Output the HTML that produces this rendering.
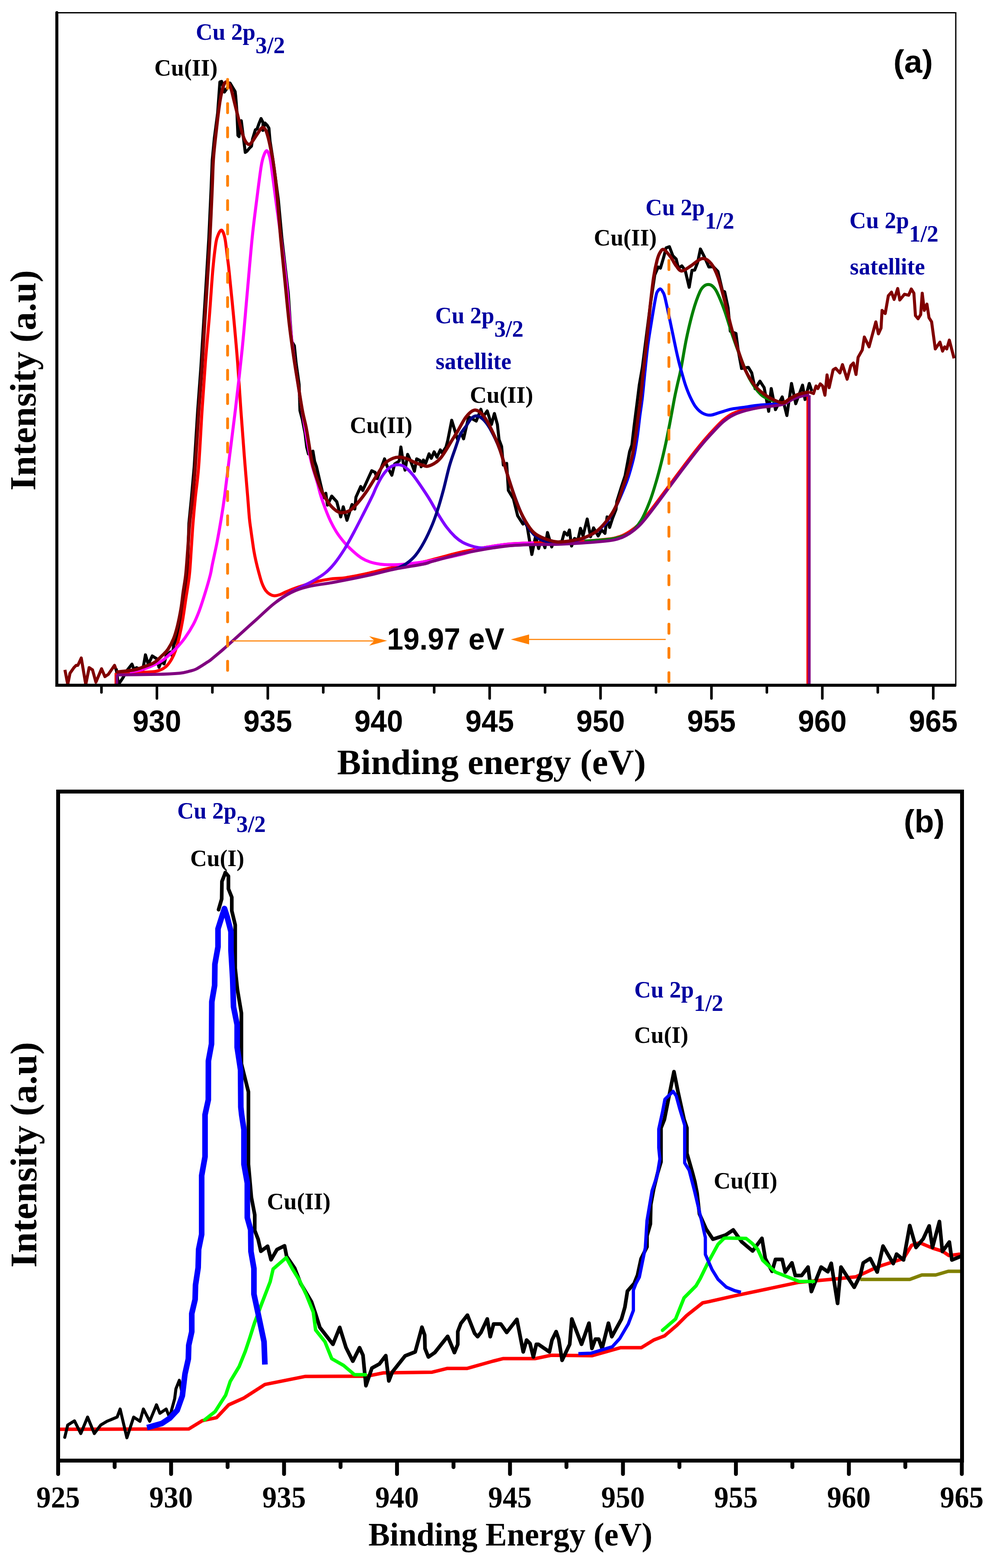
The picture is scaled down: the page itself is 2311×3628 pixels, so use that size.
<!DOCTYPE html><html><head><meta charset="utf-8"><title>Cu 2p XPS</title><style>html,body{margin:0;padding:0;background:#fff;}svg{display:block;}.tnr{font-family:"Liberation Serif","Times New Roman",serif;font-weight:bold;}.ari{font-family:"Liberation Sans",Arial,sans-serif;font-weight:bold;}</style></head><body>
<svg width="2311" height="3628" viewBox="0 0 2311 3628">
<rect width="2311" height="3628" fill="#fff"/>
<path d="M150.2,1549.9 L156.7,1583.8 L161.9,1557.7 L171,1544.7 L176.2,1539.4 L180.2,1539.4 L188,1522.5 L198.4,1583.8 L206.2,1544.7 L214,1549.9 L221.9,1578.5 L234.9,1547.3 L242.7,1565.5 L250.6,1560.3 L264.9,1539.4 L270.1,1553.8" fill="none" stroke="#800000" stroke-width="7" stroke-linejoin="round" />
<path d="M268.8,1547 L274,1583.8 L284.5,1568 L294.9,1549.9 L305.3,1536.8 L310.5,1550 L315.7,1544.7 L330,1551.6 L336.5,1515.1 L343,1537.3 L352.2,1517.7 L362.6,1524.3 L367.8,1543.8 L373,1530.8 L379.5,1536 L384.8,1516.4 L393.9,1508.6 L397.8,1516.4 L401.1,1499.5 L401.7,1493 L412.1,1466.9 L420,1434.3 L429.1,1369.1 L432.5,1330 L434.5,1290 L435.8,1250 L437,1210.8 L443,1150 L449.2,1080.4 L457.3,950 L464.8,848.3 L471,748.7 L477.2,649 L483.1,550 L488.3,436.8 L491,370 L495.8,320 L503.5,261.3 L508.7,189.6 L512.6,188.3 L516,200 L519.1,213 L525.6,203.9 L532.2,192.2 L536.1,198.7 L543.9,211.7 L545.2,222.2 L547.8,254.7 L550.4,313.4 L553,316 L555.6,282.1 L558.2,279.5 L562.1,310.8 L567.4,352.5 L571.3,349.9 L576.5,343.4 L581.7,338.2 L584.3,321.2 L590.8,300.4 L594.7,298.4 L598.6,287.3 L603.9,274.3 L608.4,283.4 L608.4,301.7 L613,284.7 L618.2,290 L622.1,296.5 L624.7,326.5 L630,360 L637,410 L644,463 L652,550 L660,620 L667,680 L671,740 L675,790 L681,800 L685,840 L692,890 L693.9,950 L699.1,969.6 L705.6,1002.2 L709.5,1034.7 L713.5,1050.4 L723.9,1043.9 L727.8,1067.3 L732.2,1080 L741.3,1119.1 L749.1,1151.7 L753.7,1141.3 L757.6,1168.7 L767.4,1147.8 L779.1,1160.8 L788.2,1196 L794.1,1172.6 L802.6,1203.9 L814.3,1167.4 L820.8,1177.8 L823.4,1150.4 L834.5,1125.6 L839.1,1134.8 L859.9,1089.1 L867.7,1093 L872.6,1107.4 L889.6,1061.7 L896,1080 L906.5,1099.5 L913,1073.5 L923.5,1066.9 L927.4,1034.3 L932.6,1069.5 L937.1,1087.8 L943,1051.3 L949.5,1065.6 L958.7,1090.4 L963.9,1061.7 L971.7,1065.6 L974.3,1080 L979.5,1064.3 L984.7,1072.2 L992.6,1050 L997.8,1060.4 L1004.3,1045.4 L1010.8,1057.8 L1018.6,1040.9 L1023,1048 L1031.7,1034.3 L1035.6,1020 L1045,972.4 L1058.7,1017.3 L1066.5,1001.7 L1072.4,1015.4 L1084.1,964.5 L1101.7,974.3 L1112.4,946.9 L1117.3,964.5 L1127.1,950.8 L1136.9,982.1 L1143.7,956.7 L1150.6,982.1 L1154.5,1017.3 L1160.4,1033 L1164.3,1076 L1172.1,1072.1 L1176,1134.7 L1187.7,1154.2 L1197.5,1193.4 L1209.8,1212.6 L1213.7,1206.7 L1219.6,1218.4 L1230.3,1283 L1239.1,1240 L1246,1269.3 L1252.8,1243.9 L1260.6,1267.3 L1266.5,1232.1 L1276.3,1265.4 L1280.2,1253.7 L1290,1255 L1300,1252 L1305.6,1231.2 L1312.5,1238 L1317.3,1226.3 L1322.2,1263.4 L1329.1,1245.8 L1336.9,1249.7 L1342.8,1222.4 L1348.6,1240 L1358.4,1200.8 L1366.2,1241.9 L1373.1,1221.4 L1383.8,1240 L1391.6,1226.3 L1399.5,1234.1 L1404.4,1196 L1410.2,1220.4 L1417.1,1198.9 L1424.9,1179.3 L1427,1160 L1437,1128 L1446,1100.8 L1456.5,1045 L1461.7,1030 L1467,985 L1474,930 L1479,890 L1486,849.9 L1504.3,706.5 L1514.7,636 L1522.6,617.8 L1527.8,620.4 L1535.6,594.3 L1540.8,573.5 L1548.6,570.9 L1556.5,591.7 L1564.3,599.5 L1569.5,620.4 L1577.3,615.2 L1585.1,625.6 L1594.3,664.7 L1600.8,625.6 L1607,625 L1613.8,607.4 L1620.3,576.1 L1629.5,594.3 L1639.9,617.8 L1650,617 L1660.8,628.2 L1671.2,672.6 L1676.4,675.2 L1684.2,711.7 L1689.4,766.4 L1702.5,771.6 L1707.7,810.8 L1715.5,852.5 L1731.2,849.9 L1739,862.9 L1746.8,899.4 L1758,882 L1767.7,896.8 L1778.2,951.7 L1784.1,898.9 L1793.9,947.8 L1809.5,918.4 L1820.3,961.5 L1831,887.2 L1840.8,934.1 L1856.5,891.1 L1862.3,924.3 L1872.1,887.2 L1878,904.8" fill="none" stroke="#000" stroke-width="7" stroke-linejoin="round" />
<path d="M268.5,1586 L268.5,1557" fill="none" stroke="#ff0000" stroke-width="7" stroke-linejoin="round" />
<path d="M268.8,1557.7 C275.8,1557.5 300.3,1556.8 310.5,1556.4 C320.7,1556.1 321.3,1556.2 330,1555.6 C338.7,1555 353.9,1554.9 362.6,1552.9 C371.3,1550.9 376.8,1547.9 382.2,1543.8 C387.6,1539.7 391.3,1534.5 395.2,1528.2 C399.1,1521.9 402.4,1515.1 405.6,1506 C408.9,1496.9 411.9,1485.4 414.7,1473.4 C417.5,1461.5 420,1449.5 422.6,1434.3 C425.2,1419.1 427.8,1399.6 430.4,1382.2 C433,1364.8 436.2,1348.7 438.2,1330 C440.2,1311.3 441.1,1289.9 442.5,1270 C443.9,1250.1 444.9,1230.8 446.5,1210.8 C448.1,1190.8 449.8,1171.7 452,1150 C454.2,1128.3 456.9,1113.7 459.5,1080.4 C462.1,1047.1 464.8,990.6 467.4,950 C470,909.4 472.4,873 475.2,836.8 C478,800.5 481.5,767.3 484.3,732.5 C487.1,697.7 489.6,655.9 492,628 C494.4,600.1 497,578.8 499,565 C501,551.2 502,550.3 504,545 C506,539.7 508.9,534.3 510.9,533 C512.9,531.7 514.3,533.3 516,537 C517.7,540.7 519.3,545.3 521,555 C522.7,564.7 524.5,582.8 526,595 C527.5,607.2 527.6,605.1 530,628 C532.4,650.9 537.1,697.7 540.4,732.5 C543.6,767.3 546.7,800.5 549.5,836.8 C552.3,873 554.7,913.8 557.3,950 C559.9,986.2 562.5,1021 565.1,1054.3 C567.7,1087.6 571,1125.5 573,1149.8 C575,1174.1 575.8,1187.5 577,1200 C578.2,1212.5 579.1,1216.7 580.2,1225 C581.3,1233.3 582.5,1241.8 583.7,1250 C584.9,1258.2 585.9,1266.2 587.3,1274.4 C588.7,1282.6 590.4,1291 592.3,1299.3 C594.2,1307.6 596.3,1316 598.6,1324.3 C600.9,1332.6 603.3,1342.2 606,1349.2 C608.7,1356.2 611.7,1362.2 614.8,1366.6 C617.9,1370.9 621.4,1373.3 624.7,1375.3 C628,1377.3 631,1378.3 634.7,1378.4 C638.4,1378.5 643,1377.3 647.1,1376 C651.2,1374.7 654.1,1372.7 659.6,1370.3 C665.1,1367.9 673.4,1364.3 680.4,1361.7 C687.4,1359.1 693.5,1357.2 701.9,1354.6 C710.3,1352 719.9,1348.5 730.6,1346 C741.4,1343.5 754.8,1341.1 766.4,1339.5 C778,1337.9 786.2,1338.7 800,1336.6 C813.8,1334.5 831.3,1330.9 849.4,1327 C867.5,1323.1 886.8,1317.5 908.6,1313 C930.4,1308.5 955,1305.6 980,1300 C1005,1294.4 1035.8,1284.7 1058.7,1279.3 C1081.6,1273.9 1097.8,1271 1117.3,1267.6 C1136.8,1264.2 1156.4,1260.9 1176,1259 C1195.6,1257.1 1214,1256.7 1234.7,1256 C1255.4,1255.3 1272.5,1256.3 1300,1255 C1327.5,1253.7 1377.5,1250.3 1400,1248 C1422.5,1245.7 1425.3,1244.2 1435,1241 C1444.7,1237.8 1451,1233.5 1458,1229 C1465,1224.5 1471,1219.7 1477,1214 C1483,1208.3 1487.2,1203.3 1494,1195 C1500.8,1186.7 1509.7,1175 1518,1164 C1526.3,1153 1534.3,1142 1544,1129 C1553.7,1116 1565.2,1100.3 1576,1086 C1586.8,1071.7 1599.7,1054.8 1609,1043 C1618.3,1031.2 1624.8,1023.3 1632,1015 C1639.2,1006.7 1645.2,1000.2 1652,993 C1658.8,985.8 1665.8,978 1673,972 C1680.2,966 1686.3,961.3 1695,957 C1703.7,952.7 1714.2,949.1 1725,946 C1735.8,942.9 1746,940.8 1760,938.5 C1774,936.2 1796.4,935.4 1808.8,932.2 C1821.2,929 1826.7,922.8 1834.2,919.5 C1841.7,916.2 1848.2,914.1 1853.8,912.6 C1859.3,911.1 1865.2,910.9 1867.5,910.5" fill="none" stroke="#ff0000" stroke-width="7" stroke-linejoin="round" />
<path d="M1867.5,910.5 L1867.5,1586" fill="none" stroke="#ff0000" stroke-width="4" stroke-linejoin="round" />
<path d="M300,1555 C305,1554 318.5,1552.8 330,1549 C341.5,1545.2 359.3,1537.3 369.1,1532.1 C378.9,1526.9 382.2,1523.1 388.7,1517.7 C395.2,1512.3 401.7,1506.5 408.2,1499.5 C414.7,1492.5 421.3,1485.1 427.8,1476 C434.3,1466.9 441.9,1454.9 447.3,1444.7 C452.7,1434.5 456,1426.2 460.4,1414.7 C464.8,1403.2 469,1389.7 473.4,1375.6 C477.8,1361.5 483.6,1341.5 486.5,1330 C489.4,1318.5 488.5,1319.1 491.1,1306.5 C493.7,1293.9 498.7,1271.7 502.1,1254.3 C505.5,1236.9 508.5,1219.6 511.4,1202.2 C514.3,1184.8 516,1174.7 519.3,1150 C522.6,1125.3 527,1087.6 531.2,1054.3 C535.4,1021 539.5,990.6 544.3,950 C549.1,909.4 555.3,855.7 559.9,810.8 C564.5,765.9 567.8,723.9 571.7,680.4 C575.6,636.9 579.7,586.2 583.4,550 C587.1,513.8 590.3,490.6 593.8,463 C597.3,435.4 601.3,402.2 604.2,384.7 C607.1,367.2 608.8,364 611,358 C613.2,352 615.3,348.3 617.3,348.6 C619.3,348.9 621.3,354 623,360 C624.7,366 625.2,367.5 627.7,384.7 C630.2,401.9 634.3,435.4 638,463 C641.7,490.6 645.7,517.2 649.9,550 C654.1,582.8 659.3,625 663,660 C666.7,695 668.8,730 672,760 C675.2,790 677.5,808.3 682,840 C686.5,871.7 694.1,918.6 699.1,950 C704.1,981.4 709.2,1010.7 712.2,1028.2 C715.2,1045.7 715.2,1046.4 717,1055 C718.8,1063.6 720,1069.3 723,1080 C726,1090.7 731.5,1107.4 734.8,1119.1 C738.1,1130.8 738.7,1137 743,1150 C747.3,1163 755,1184 760.8,1197.3 C766.6,1210.6 771.7,1220.2 777.8,1230 C783.9,1239.8 790.8,1248.4 797.3,1256 C803.8,1263.6 810.4,1269.7 816.9,1275.6 C823.4,1281.5 830,1287.1 836.5,1291.2 C843,1295.3 848.8,1297.9 856,1300.3 C863.2,1302.7 872.2,1304.4 880,1305.5 C887.8,1306.6 893.4,1306.8 902.6,1306.8 C911.8,1306.8 921.1,1306.8 935.2,1305.5 C949.3,1304.2 964.8,1302.9 987.3,1299 C1009.8,1295.1 1048.4,1287.2 1070,1282 C1091.6,1276.8 1099.3,1271.8 1117,1268 C1134.7,1264.2 1156.3,1261 1176,1259 C1195.7,1257 1225.2,1256.5 1235,1256" fill="none" stroke="#ff00ff" stroke-width="7" stroke-linejoin="round" />
<path d="M640,1392 C644.2,1389.2 655.9,1380.5 665,1375 C674.1,1369.5 685,1364.1 694.7,1359 C704.4,1353.9 713.8,1350 723.4,1344.5 C733,1339 743.7,1332.7 752.1,1325.9 C760.5,1319.2 766.1,1313.3 773.6,1304 C781.1,1294.7 789.6,1282.3 797.3,1270 C804.9,1257.7 811.9,1244.3 819.5,1230 C827.1,1215.7 835.8,1198.4 843,1184.3 C850.2,1170.2 858,1154.6 862.5,1145.2 C867,1135.8 866.6,1135 870,1128 C873.4,1121 878.6,1110.3 883,1103.4 C887.4,1096.5 891.8,1090.8 896.1,1086.5 C900.5,1082.2 904.5,1079.2 909.1,1077.4 C913.7,1075.6 918.7,1074.8 923.5,1075.4 C928.3,1076.1 932.6,1077.5 937.8,1081.3 C943,1085.1 948.6,1090.8 954.7,1098.2 C960.8,1105.6 967.8,1116 974.3,1125.6 C980.8,1135.2 987.4,1144.9 993.9,1155.6 C1000.4,1166.2 1006.9,1178.8 1013.4,1189.5 C1019.9,1200.2 1026.5,1210.8 1033,1219.5 C1039.5,1228.2 1046.3,1235.7 1052.5,1241.6 C1058.7,1247.5 1063.8,1251.1 1070,1254.7 C1076.2,1258.3 1083.7,1260.9 1090,1263 C1096.3,1265.1 1101.4,1266.4 1107.6,1267.2 C1113.8,1268 1118.4,1268.2 1127.1,1267.7 C1135.8,1267.2 1154.5,1264.6 1160,1264" fill="none" stroke="#8000ff" stroke-width="7" stroke-linejoin="round" />
<path d="M905,1318 C907.9,1317.2 916.1,1315.9 922.2,1313.4 C928.3,1310.9 935.2,1307.7 941.7,1302.9 C948.2,1298.1 954.8,1292.7 961.3,1284.7 C967.8,1276.7 974.3,1266.7 980.8,1254.7 C987.3,1242.8 995,1226 1000.4,1213 C1005.8,1200 1009,1190.2 1013.4,1176.5 C1017.8,1162.8 1022.1,1147.1 1026.5,1130.8 C1030.8,1114.5 1035.2,1093.9 1039.5,1078.7 C1043.8,1063.5 1048.2,1051.9 1052.5,1039.6 C1056.8,1027.3 1060.7,1013.9 1065,1005 C1069.3,996.1 1073.7,992.4 1078.2,986 C1082.7,979.6 1087.3,970.4 1091.9,966.5 C1096.5,962.6 1100.7,961.3 1105.6,962.6 C1110.5,963.9 1116.1,968.4 1121.3,974.3 C1126.5,980.2 1131,986.7 1136.9,997.8 C1142.8,1008.9 1150,1022.9 1156.5,1040.8 C1163,1058.7 1169.5,1084.8 1176,1105 C1182.5,1125.2 1189.1,1144.8 1195.6,1162 C1202.1,1179.2 1208.5,1195.6 1215,1208 C1221.5,1220.4 1228.2,1229.4 1234.7,1236.4 C1241.2,1243.4 1247.5,1247.1 1254,1250 C1260.5,1252.9 1266.1,1253 1273.8,1254 C1281.5,1255 1295.6,1255.7 1300,1256" fill="none" stroke="#000080" stroke-width="7" stroke-linejoin="round" />
<path d="M1352.2,1252 C1363,1251.1 1399.9,1249.8 1417.3,1246.8 C1434.7,1243.8 1445.6,1240.8 1456.5,1233.8 C1467.4,1226.8 1474.7,1217.4 1482.5,1205.1 C1490.3,1192.8 1497.3,1175.2 1503.2,1160 C1509.1,1144.8 1513.6,1129.1 1518.1,1113.9 C1522.6,1098.8 1526.4,1084 1530.1,1069.1 C1533.8,1054.1 1537.3,1039.2 1540.5,1024.2 C1543.7,1009.2 1546.2,996.3 1549.5,979.4 C1552.8,962.5 1557.1,937.5 1560,922.6 C1562.9,907.7 1564.5,901.3 1567,890 C1569.5,878.7 1571.5,872.5 1575,855 C1578.5,837.5 1583,807.3 1587.7,784.7 C1592.4,762.1 1598.2,737.8 1603.4,719.5 C1608.6,701.2 1614.6,685 1619,675.2 C1623.4,665.5 1626.7,663.8 1630,661 C1633.3,658.2 1635.8,658.2 1638.6,658.2 C1641.4,658.2 1643.8,658.2 1647,661 C1650.2,663.8 1653.2,665.5 1658.1,675.2 C1663,685 1670.3,702.5 1676.4,719.5 C1682.5,736.5 1688.6,759.1 1694.7,776.9 C1700.8,794.7 1706.4,809.9 1712.9,826.4 C1719.4,842.9 1726,861.6 1733.8,876 C1741.6,890.4 1751.3,904.2 1759.8,912.5 C1768.3,920.8 1776.4,922.6 1785,926 C1793.6,929.4 1807.1,931.8 1811.5,933" fill="none" stroke="#008000" stroke-width="7" stroke-linejoin="round" />
<path d="M1300,1255 C1306.5,1254 1326,1253 1339,1249 C1352,1245 1367.2,1238 1378,1231 C1388.8,1224 1396.2,1216.8 1404,1207 C1411.8,1197.2 1418.3,1185 1425,1172 C1431.7,1159 1439,1141.2 1444,1129 C1449,1116.8 1451.2,1111.5 1455,1099 C1458.8,1086.5 1463.8,1069 1467,1054 C1470.2,1039 1472.3,1024 1474.5,1009 C1476.7,994 1478.1,978.8 1480,964 C1481.9,949.2 1484,937.3 1486,920 C1488,902.7 1489.9,880 1492,860 C1494.1,840 1496,819.1 1498.5,800 C1501,780.9 1503.8,764.7 1506.9,745.6 C1510,726.5 1514.8,697.7 1517.3,685.6 C1519.8,673.5 1520.2,675.8 1522,673 C1523.8,670.2 1526,668.3 1527.8,668.6 C1529.6,668.9 1531.3,671.7 1533,675 C1534.7,678.3 1535.2,676 1538.2,688.2 C1541.2,700.4 1546.9,727.8 1551.2,748.2 C1555.5,768.6 1561,795.5 1564.3,810.8 C1567.6,826.1 1568.8,830.8 1571.1,840 C1573.4,849.2 1575.8,857.4 1578.3,866.1 C1580.8,874.8 1583.1,883.5 1586.1,892.2 C1589.1,900.9 1592.6,910 1596.5,918.2 C1600.4,926.5 1604.7,935.4 1609.5,941.7 C1614.3,948 1619.5,952.9 1625.2,956 C1630.9,959.1 1636.9,960.8 1643.4,960.6 C1649.9,960.4 1656.5,957 1664.3,954.7 C1672.1,952.4 1681.7,948.9 1690.4,946.9 C1699.1,944.9 1704.9,944.6 1716.5,943 C1728.1,941.4 1744.2,938.6 1760,937.1 C1775.8,935.6 1802.9,934.5 1811.5,934" fill="none" stroke="#0000ff" stroke-width="7" stroke-linejoin="round" />
<path d="M270.5,1586 L270.5,1561.6" fill="none" stroke="#800080" stroke-width="6" stroke-linejoin="round" />
<path d="M270.1,1561.6 C285.5,1561.4 338.6,1560.9 362.7,1560.3 C386.8,1559.7 402.1,1558.9 414.8,1557.7 C427.5,1556.5 432.2,1554.5 438.7,1552.9 C445.2,1551.3 447.5,1551.3 454,1548 C460.5,1544.7 472.2,1536.9 477.8,1533.3 C483.4,1529.7 481.3,1531.6 487.8,1526.4 C494.3,1521.2 505.5,1511.9 516.9,1502 C528.3,1492.1 543,1478.5 556,1466.8 C569,1455.1 582.1,1443.3 595.1,1431.6 C608.1,1419.9 621.2,1406.5 634.2,1396.4 C647.2,1386.3 660.4,1377.5 673.4,1371 C686.4,1364.5 696.2,1361.2 712.5,1357.3 C728.8,1353.4 748.3,1351.7 771.1,1347.5 C793.9,1343.3 826.5,1336.9 849.4,1331.9 C872.3,1326.9 886.8,1322.2 908.6,1317.7 C930.4,1313.2 964.8,1308.1 980,1305 C995.2,1301.9 986.9,1302.6 1000,1299 C1013.1,1295.4 1039.2,1287.9 1058.7,1283.3 C1078.2,1278.7 1097.8,1275 1117.3,1271.6 C1136.8,1268.2 1156.4,1264.9 1176,1263 C1195.6,1261.1 1214,1260.7 1234.7,1260 C1255.4,1259.3 1272.5,1260.3 1300,1259 C1327.5,1257.7 1377.5,1254.3 1400,1252 C1422.5,1249.7 1425.3,1248.2 1435,1245 C1444.7,1241.8 1451,1237.5 1458,1233 C1465,1228.5 1471,1223.7 1477,1218 C1483,1212.3 1487.2,1207.3 1494,1199 C1500.8,1190.7 1509.7,1179 1518,1168 C1526.3,1157 1534.3,1146 1544,1133 C1553.7,1120 1565.2,1104.3 1576,1090 C1586.8,1075.7 1599.7,1058.8 1609,1047 C1618.3,1035.2 1624.8,1027.3 1632,1019 C1639.2,1010.7 1645.2,1004.2 1652,997 C1658.8,989.8 1665.8,982 1673,976 C1680.2,970 1686.3,965.3 1695,961 C1703.7,956.7 1714.2,953.1 1725,950 C1735.8,946.9 1746,944.8 1760,942.5 C1774,940.2 1796.4,939.4 1808.8,936.2 C1821.2,933 1826.7,926.8 1834.2,923.5 C1841.7,920.2 1847.5,918.2 1853.8,916.6 C1860.1,915 1869,914.2 1872.1,913.7" fill="none" stroke="#800080" stroke-width="7" stroke-linejoin="round" />
<path d="M1872,914.5 L1872,1586" fill="none" stroke="#800080" stroke-width="6.5" stroke-linejoin="round" />
<path d="M268.8,1555 C275.8,1554.2 300.3,1551.9 310.5,1550 C320.7,1548.1 322.4,1546.6 330,1543.8 C337.6,1541 348.5,1538 356.1,1533.4 C363.7,1528.8 370.2,1521.6 375.6,1516.4 C381,1511.2 384.4,1508.6 388.7,1502.1 C393,1495.6 398,1486.4 401.7,1477.3 C405.4,1468.2 408,1458.8 410.8,1447.3 C413.6,1435.8 416.5,1421.2 418.7,1408.2 C420.9,1395.2 422.1,1382.1 423.9,1369.1 C425.7,1356.1 427.9,1346.5 429.7,1330 C431.5,1313.5 433,1289.9 434.5,1270 C436,1250.1 436.9,1230.8 438.7,1210.8 C440.5,1190.8 443.3,1171.7 445.5,1150 C447.7,1128.3 449.3,1113.7 451.7,1080.4 C454.1,1047.1 457.2,988.7 459.8,950 C462.4,911.3 465,881.8 467.3,848.3 C469.6,814.8 471.4,781.9 473.5,748.7 C475.6,715.5 477.7,682.1 479.7,649 C481.7,615.9 483.8,585.4 485.6,550 C487.5,514.6 489.5,466.8 490.8,436.8 C492.1,406.8 492.2,389.5 493.5,370 C494.8,350.5 496.6,335.9 498.3,320 C500,304.1 501.8,288.4 503.5,274.3 C505.2,260.2 507,246.1 508.7,235.2 C510.4,224.3 512.2,216 513.9,209.1 C515.6,202.2 517.4,196.8 519.1,193.5 C520.8,190.2 522.6,189.6 524.3,189.6 C526,189.6 527.8,190.7 529.5,193.5 C531.2,196.3 532.8,200 534.8,206.5 C536.8,213 538.9,223 541.3,232.6 C543.7,242.2 546.3,252.6 549.1,263.9 C551.9,275.2 555.4,290.4 558.2,300.4 C561,310.4 563.1,318.1 566,323.8 C568.9,329.5 572.8,333.9 575.8,334.3 C578.8,334.8 581.1,330.4 584.3,326.5 C587.4,322.6 591,316 594.7,310.8 C598.4,305.6 603.2,296.9 606.5,295.2 C609.8,293.5 611.9,296.3 614.3,300.4 C616.7,304.5 618.6,311.8 620.8,320 C623,328.2 625.6,341.6 627.3,349.9 C629,358.2 629.6,359.9 631.2,370 C632.8,380.1 635,395.3 636.8,410.8 C638.6,426.3 639.9,439.9 642,463 C644.1,486.1 646.4,518.3 649.2,549.3 C652.1,580.3 655.8,615.8 659.1,649 C662.4,682.2 665.8,719.6 669.1,748.7 C672.4,777.8 675.8,800.6 679.1,823.4 C682.4,846.2 685.6,864.6 689,885.7 C692.4,906.8 696.3,932.8 699.5,950 C702.7,967.2 705.7,976.1 708.2,989.1 C710.8,1002.1 713,1017.2 714.8,1028.2 C716.6,1039.2 717.4,1046.4 719,1055 C720.6,1063.6 721.7,1070.4 724.3,1080 C726.9,1089.6 731.3,1102.8 734.8,1112.6 C738.3,1122.4 740.9,1130 745.2,1138.7 C749.5,1147.4 755.4,1157.5 760.8,1164.7 C766.2,1171.9 772.8,1178.1 777.8,1181.7 C782.8,1185.3 785.4,1186.5 790.8,1186.3 C796.2,1186.1 803.9,1184.7 810.4,1180.4 C816.9,1176.2 823.4,1168.4 829.9,1160.8 C836.4,1153.2 843,1144.3 849.5,1134.8 C856,1125.3 862.3,1114.3 869,1104 C875.7,1093.7 882.9,1080.3 889.6,1073 C896.3,1065.7 903.2,1062.9 909.1,1060.4 C915,1057.9 919.4,1057.6 924.8,1057.8 C930.2,1058 935.6,1059.5 941.7,1061.7 C947.8,1063.9 954.8,1068.2 961.3,1070.8 C967.8,1073.4 976,1076.1 980.8,1077.4 C985.6,1078.7 985.6,1079.8 990,1078.7 C994.4,1077.6 1001.9,1074.1 1006.9,1070.8 C1011.9,1067.5 1015.5,1064.3 1019.9,1059.1 C1024.2,1053.9 1028.9,1046.1 1033,1039.6 C1037.1,1033.1 1040.4,1027 1044.7,1020 C1049,1013 1053.1,1007 1058.7,997.8 C1064.3,988.5 1071.7,972.6 1078.2,964.5 C1084.7,956.4 1091.3,949.5 1097.8,948.9 C1104.3,948.2 1110.8,953.1 1117.3,960.6 C1123.8,968.1 1130.4,980.5 1136.9,993.9 C1143.4,1007.3 1150,1022.2 1156.5,1040.8 C1163,1059.4 1169.5,1084.8 1176,1105.3 C1182.5,1125.8 1189.1,1147.4 1195.6,1164 C1202.1,1180.6 1208.6,1193.7 1215.1,1205 C1221.6,1216.3 1227.4,1225.2 1234.7,1232 C1242,1238.8 1249.8,1242.2 1258.7,1245.8 C1267.6,1249.4 1278.2,1252.7 1288,1253.7 C1297.8,1254.7 1307.5,1253 1317.3,1251.7 C1327.1,1250.4 1336.9,1249.1 1346.7,1245.8 C1356.5,1242.5 1367.8,1237.3 1376,1232.1 C1384.2,1226.9 1389.1,1221.7 1395.6,1214.5 C1402.1,1207.3 1409.4,1198.2 1415.1,1189.1 C1420.8,1180 1425.7,1170 1429.9,1160 C1434.1,1150 1436.9,1139.1 1440.4,1128.9 C1443.9,1118.7 1447.1,1111.5 1450.8,1099 C1454.5,1086.5 1459.5,1069 1462.8,1054.1 C1466,1039.1 1468.1,1024.2 1470.3,1009.3 C1472.5,994.3 1474.2,979.3 1476.2,964.4 C1478.2,949.5 1480.2,937 1482.2,919.6 C1484.2,902.2 1486.1,879.7 1488.2,859.8 C1490.3,839.9 1492.2,825.5 1494.9,800 C1497.6,774.5 1501.4,733 1504.3,706.5 C1507.2,680 1509.5,658.7 1512.1,641.3 C1514.7,623.9 1517.5,611.8 1520,602.2 C1522.5,592.7 1524.4,588.1 1527,584 C1529.6,579.9 1531.6,575.7 1535.6,577.4 C1539.6,579.1 1546.4,588 1551.2,594.3 C1556,600.6 1560,609.8 1564.3,615.2 C1568.6,620.6 1571.6,626.9 1577.3,626.9 C1583,626.9 1590.4,620 1598.2,615.2 C1606,610.4 1616.5,599.1 1624.3,598.2 C1632.1,597.3 1639,602.8 1645.1,610 C1651.2,617.2 1655.6,627 1660.8,641.3 C1666,655.6 1671.2,676.5 1676.4,696 C1681.6,715.5 1686.8,739.5 1692,758.6 C1697.2,777.7 1702.4,794.6 1707.7,810.8 C1713,827 1717.5,842.3 1724,856 C1730.5,869.7 1739.4,883.6 1746.8,893 C1754.2,902.4 1761.5,907.4 1768.4,912.6 C1775.3,917.8 1780.8,921 1788,924.3 C1795.2,927.5 1805,932.4 1811.5,932.1 C1818,931.8 1821.2,925.6 1827.1,922.4 C1833,919.1 1839.2,915.2 1846.7,912.6 C1854.2,910 1867.9,907.7 1872.1,906.7" fill="none" stroke="#800000" stroke-width="7.5" stroke-linejoin="round" />
<path d="M1872.1,906.7 L1881.9,910.6 L1887.7,893 L1892,899 L1897.5,888.1 L1903,893 L1908.3,914.5 L1913.2,867.6 L1918.1,897 L1927.2,855.7 L1933.2,852 L1942.9,862.9 L1948.9,843.6 L1959.7,877.4 L1968.2,846 L1974.2,840 L1980.2,866.5 L1985.1,826.7 L1994.7,809.8 L1999.5,779.7 L2010.4,802.6 L2026.1,744.7 L2032.1,772.5 L2038.1,759.2 L2040.5,718.2 L2047.8,725.4 L2055,684.4 L2062.3,676 L2068.3,692.9 L2076.7,667.5 L2081.5,694.1 L2092.4,680.8 L2102,683.2 L2108.1,668.7 L2114.1,678.4 L2117.7,730.2 L2123.8,737.5 L2129.8,727.8 L2133.4,678.4 L2138.2,718.2 L2144.3,703.7 L2149.1,735.1 L2155.1,744.7 L2163.6,807.4 L2174.4,791.7 L2180.4,812.3 L2185.3,802.6 L2190.1,807.4 L2196.1,786.9 L2207,829.1" fill="none" stroke="#800000" stroke-width="7" stroke-linejoin="round" />
<line x1="526.5" y1="183.65" x2="526.5" y2="1586" stroke="#ff8000" stroke-width="6.5" stroke-linecap="round" stroke-dasharray="20.9 35.2"/>
<line x1="1547.4" y1="602.75" x2="1547.4" y2="1582" stroke="#ff8000" stroke-width="6.5" stroke-linecap="round" stroke-dasharray="20.9 35.2"/>
<line x1="536.5" y1="1483" x2="885" y2="1483" stroke="#ff8000" stroke-width="2.5"/>
<path d="M895.6,1482.6 L854,1472 L866,1482.6 L854,1494 Z" fill="#ff8000"/>
<line x1="1195" y1="1479.5" x2="1540" y2="1479.5" stroke="#ff8000" stroke-width="2.5"/>
<path d="M1181.7,1479.5 L1224,1468 L1224,1491 Z" fill="#ff8000"/>
<path d="M131.5,1586 L131.5,29.5 L2211,29.5 L2211,1585.5 L131.5,1585.5" fill="none" stroke="#000" stroke-width="3"/>
<line x1="131.5" y1="29.3" x2="131.5" y2="1585.5" stroke="#000" stroke-width="7" stroke-linecap="round"/>
<line x1="128" y1="1585.5" x2="2212" y2="1585.5" stroke="#000" stroke-width="7"/>
<line x1="234.7" y1="1586" x2="234.7" y2="1602" stroke="#000" stroke-width="6" stroke-linecap="round"/>
<line x1="363.0" y1="1586" x2="363.0" y2="1616" stroke="#000" stroke-width="6" stroke-linecap="round"/>
<text transform="translate(363.0,1692.5) scale(0.964,1)" class="ari" font-size="70" text-anchor="middle">930</text>
<line x1="491.3" y1="1586" x2="491.3" y2="1602" stroke="#000" stroke-width="6" stroke-linecap="round"/>
<line x1="619.5" y1="1586" x2="619.5" y2="1616" stroke="#000" stroke-width="6" stroke-linecap="round"/>
<text transform="translate(619.5,1692.5) scale(0.964,1)" class="ari" font-size="70" text-anchor="middle">935</text>
<line x1="747.8" y1="1586" x2="747.8" y2="1602" stroke="#000" stroke-width="6" stroke-linecap="round"/>
<line x1="876.1" y1="1586" x2="876.1" y2="1616" stroke="#000" stroke-width="6" stroke-linecap="round"/>
<text transform="translate(876.1,1692.5) scale(0.964,1)" class="ari" font-size="70" text-anchor="middle">940</text>
<line x1="1004.4" y1="1586" x2="1004.4" y2="1602" stroke="#000" stroke-width="6" stroke-linecap="round"/>
<line x1="1132.7" y1="1586" x2="1132.7" y2="1616" stroke="#000" stroke-width="6" stroke-linecap="round"/>
<text transform="translate(1132.7,1692.5) scale(0.964,1)" class="ari" font-size="70" text-anchor="middle">945</text>
<line x1="1260.9" y1="1586" x2="1260.9" y2="1602" stroke="#000" stroke-width="6" stroke-linecap="round"/>
<line x1="1389.2" y1="1586" x2="1389.2" y2="1616" stroke="#000" stroke-width="6" stroke-linecap="round"/>
<text transform="translate(1389.2,1692.5) scale(0.964,1)" class="ari" font-size="70" text-anchor="middle">950</text>
<line x1="1517.5" y1="1586" x2="1517.5" y2="1602" stroke="#000" stroke-width="6" stroke-linecap="round"/>
<line x1="1645.8" y1="1586" x2="1645.8" y2="1616" stroke="#000" stroke-width="6" stroke-linecap="round"/>
<text transform="translate(1645.8,1692.5) scale(0.964,1)" class="ari" font-size="70" text-anchor="middle">955</text>
<line x1="1774.0" y1="1586" x2="1774.0" y2="1602" stroke="#000" stroke-width="6" stroke-linecap="round"/>
<line x1="1902.3" y1="1586" x2="1902.3" y2="1616" stroke="#000" stroke-width="6" stroke-linecap="round"/>
<text transform="translate(1902.3,1692.5) scale(0.964,1)" class="ari" font-size="70" text-anchor="middle">960</text>
<line x1="2030.6" y1="1586" x2="2030.6" y2="1602" stroke="#000" stroke-width="6" stroke-linecap="round"/>
<line x1="2158.9" y1="1586" x2="2158.9" y2="1616" stroke="#000" stroke-width="6" stroke-linecap="round"/>
<text transform="translate(2158.9,1692.5) scale(0.964,1)" class="ari" font-size="70" text-anchor="middle">965</text>
<text x="0" y="0" class="tnr" font-size="85" fill="#000" transform="translate(82.4,880) rotate(-90)" text-anchor="middle">Intensity (a.u)</text>
<text transform="translate(453.11,92) scale(0.9617,1)" class="tnr" font-size="55.5" fill="#0000a0">Cu 2p<tspan dy="31">3/2</tspan></text>
<text transform="translate(357.03,174.5) scale(0.9867,1)" class="tnr" font-size="54.5" fill="#000">Cu(II)</text>
<text transform="translate(2066.80,168.4) scale(1.0012,1)" class="ari" font-size="74.7" fill="#000">(a)</text>
<text transform="translate(1493.30,497.6) scale(0.9581,1)" class="tnr" font-size="55.5" fill="#0000a0">Cu 2p<tspan dy="31">1/2</tspan></text>
<text transform="translate(1373.86,568) scale(0.9797,1)" class="tnr" font-size="54.5" fill="#000">Cu(II)</text>
<text transform="translate(1965.12,528.3) scale(0.9608,1)" class="tnr" font-size="55.5" fill="#0000a0">Cu 2p<tspan dy="31">1/2</tspan></text>
<text transform="translate(1966.09,634.6) scale(0.9553,1)" class="tnr" font-size="55.5" fill="#0000a0">satellite</text>
<text transform="translate(1006.70,747.5) scale(0.9533,1)" class="tnr" font-size="55.5" fill="#0000a0">Cu 2p<tspan dy="31">3/2</tspan></text>
<text transform="translate(1007.64,854.3) scale(0.9637,1)" class="tnr" font-size="55.5" fill="#0000a0">satellite</text>
<text transform="translate(1087.04,932.4) scale(0.9860,1)" class="tnr" font-size="54.5" fill="#000">Cu(II)</text>
<text transform="translate(809.46,1001.8) scale(0.9743,1)" class="tnr" font-size="54.5" fill="#000">Cu(II)</text>
<text transform="translate(895.14,1503.4) scale(0.9691,1)" class="ari" font-size="70" fill="#000">19.97 eV</text>
<text transform="translate(779.80,1790.7) scale(0.9994,1)" class="tnr" font-size="83" fill="#000">Binding energy (eV)</text>
<path d="M134,3307 L436.6,3306.3 L468,3287.1 L501.1,3280.1 L529,3250.5 L563.9,3234.8 L612.8,3203.3 L706.7,3184.7 L847.8,3184.3 L887,3176.5 L999.6,3174.9 L1034,3166.3 L1080,3166.3 L1140,3149.5 L1163.4,3143.6 L1237.7,3143.6 L1274.9,3135.8 L1369.3,3136.8 L1435.8,3118.2 L1483.7,3118.2 L1512.1,3100.6 L1537.5,3090.8 L1564.9,3067.3 L1588.4,3043.9 L1625.5,3014.5 L1640,3011.6 L1700,2998.2 L1848.6,2966.9 L1934.7,2959.1 L1980,2954.2 L2000,2945.4 L2020.7,2935.6 L2037.6,2928.8 L2090.2,2911.9 L2108.8,2881.4 L2127.5,2875.4 L2158,2888.1 L2180,2894.9 L2195.3,2905.1 L2221,2901.7" fill="none" stroke="#ff0000" stroke-width="8" stroke-linejoin="round" />
<path d="M1990.2,2960.2 L2104.6,2960.2 L2132.5,2950 L2164.7,2950 L2193.6,2941.5 L2221,2941.5" fill="none" stroke="#808000" stroke-width="8" stroke-linejoin="round" />
<path d="M149.8,3325.7 L156.6,3297.3 L172.3,3287.6 L186.9,3316.9 L202.6,3278.8 L218.2,3316.9 L232.9,3297.3 L247.6,3288.5 L271,3278.8 L277.9,3260.2 L293.5,3326.7 L309.2,3278.8 L323.8,3288.5 L331.7,3260.2 L346.3,3288.5 L362,3250.4 L369.8,3270 L384.5,3260.2 L392.3,3279.7 L404,3236.7 L407,3213.2 L414.8,3193.7 L423.2,3231.5" fill="none" stroke="#000" stroke-width="7" stroke-linejoin="round" stroke-linecap="round"/>
<path d="M505.6,2104.7 L512.8,2080 L513.4,2039.5 L520,2022.6 L521.3,2018.7 L528.4,2027.2 L528.4,2056.5 L536.2,2076 L536.2,2107.3 L544.1,2139.9 L544.1,2240.3 L549.3,2290 L558.4,2343.9 L558.4,2461.2 L574.7,2526.4 L574.7,2693.6 L581.5,2770.3 L589.3,2810.9 L589.3,2846.9 L597.1,2867.3 L603.5,2895.2 L619.1,2883.5 L626.9,2914.8 L640.6,2891.3 L658.2,2882.5 L663.1,2906.9 L681.7,2934.3 L695.4,2969.5 L720.8,3012.5 L730.1,3040 L739.9,3071.3 L770.2,3110.4 L785.9,3071.3 L800.5,3118.2 L816.2,3149.5 L831.8,3118.2 L839.7,3135.8 L846.5,3206.2 L860.3,3165.5 L877.5,3156.1 L892.4,3136.6 L899.5,3195.2 L907.3,3174.9 L937,3137.3 L960.5,3128 L976.1,3070.8 L982.4,3088.8 L983.2,3120.1 L991,3139.7 L1005.8,3129.5 L1035.6,3092 L1051.2,3129.5 L1059,3110.7 L1059,3081 L1066.1,3062.2 L1081.3,3042.9 L1097.9,3085 L1104.8,3092.8 L1112.6,3083 L1127.2,3051.7 L1134.1,3092.8 L1141.9,3063.4 L1158.5,3063.4 L1172.2,3083 L1195.7,3052.7 L1210.4,3128 L1218.2,3100.6 L1226,3108.4 L1233.8,3139.7 L1240.7,3110.4 L1245.6,3110.4 L1271,3128 L1276.9,3100.6 L1286.6,3081 L1292.5,3098.6 L1300.3,3147.5 L1317.9,3110.4 L1322.8,3051.7 L1345.3,3110.4 L1362.5,3061.5 L1369.3,3120.1 L1377.2,3098.6 L1385,3098.6 L1392.8,3120.1 L1407.5,3061.5 L1415.3,3092.8 L1437.8,3051.7 L1445.6,3024.3 L1451.5,2987.2 L1467.1,2969.6 L1474.9,2950 L1483,2912.3 L1496.7,2884.9 L1496.7,2859.5 L1504.5,2832.1 L1505.5,2787.2 L1512.4,2750 L1521.3,2714.2 L1529.1,2688.2 L1529.1,2609.9 L1536.9,2590.4 L1546,2544.7 L1559.1,2479.6 L1568.2,2525.2 L1582.6,2590.4 L1589.1,2609.9 L1589.1,2668.6 L1602.1,2714.2 L1607.3,2733.8 L1612.5,2760 L1618,2808.7 L1633.6,2843.9 L1649.3,2867.3 L1678.6,2857.6 L1696.2,2845.8 L1715.8,2873.2 L1741.1,2894.5 L1762.6,2865.2 L1770.4,2912.1 L1786,2941.5 L1793.9,2914.1 L1809.5,2914.1 L1816.4,2943.4 L1832,2921.9 L1839.8,2951.3 L1854.5,2951.3 L1869.2,2931.7 L1877,2988.4 L1899.5,2931.7 L1915.1,2942.5 L1922.9,2922.9 L1937.6,3015.8 L1945.4,2931.7 L1976,2978.5 L1990.2,2950.8 L1996.9,2922 L2013.1,2911.9 L2029.2,2943.2 L2042.7,2883.1 L2066.4,2923.7 L2074.1,2901.7 L2090.2,2915.3 L2104.6,2835.6 L2119,2886.4 L2135.9,2866.1 L2149.5,2836.4 L2157.1,2886.4 L2173.2,2826.3 L2180,2895.8 L2196.1,2873.7 L2202,2915.3 L2221,2907.6" fill="none" stroke="#000" stroke-width="8.5" stroke-linejoin="round" stroke-linecap="round"/>
<path d="M473.2,3285.4 L497.6,3266.2 L522.1,3227.8 L532.5,3196.4 L553.4,3161.6 L567.4,3126.7 L577.9,3095.3 L588.3,3062.2 L605.4,3016.5 L625,2965.6 L631.8,2936.3 L662.1,2909.9 L677.8,2938.2 L693.4,2963.7 L709.1,2996.9 L724.7,3036 L730.1,3077.2 L751.7,3104.5 L767.3,3143.6 L794.7,3159.3 L820.1,3180.8 L845.5,3180.8" fill="none" stroke="#00ff00" stroke-width="8" stroke-linejoin="round" stroke-linecap="round"/>
<path d="M1532.6,3078.1 L1562.9,3051.7 L1582.5,3002.8 L1609.9,2975.4 L1620,2958 L1637.5,2922.1 L1661,2879.1 L1674.7,2865.4 L1680.5,2864.4 L1726,2865.5 L1740,2877 L1752.8,2890.6 L1764.5,2916 L1793.9,2943.4 L1848.6,2964.9 L1881.9,2964.9" fill="none" stroke="#00ff00" stroke-width="8" stroke-linejoin="round" stroke-linecap="round"/>
<path d="M340,3303 L347.3,3301.3 L374.7,3293.4 L392.3,3281.7 L409.9,3263 L421.8,3229.6 L427.9,3179 L435.7,3144.1 L436.6,3112.7 L443.6,3081.3 L443.6,3039.5 L451.4,3006.4 L452.3,2973.2 L458.4,2933.1 L459.5,2890.7 L466.5,2856.3 L466.5,2720.2 L474.3,2676.4 L474.3,2579.4 L481.9,2544.7 L482.1,2454.7 L489.3,2415.6 L490,2317.8 L496.5,2280 L497.1,2231.2 L504.3,2190.8 L504.3,2149.1 L513.4,2120.4 L519.3,2102.1 L525.2,2120.4 L534.3,2155.6 L534.3,2198.6 L538.2,2263.8 L540.2,2329.5 L548.6,2371.3 L548.6,2423.4 L556.5,2475.6 L557.1,2561.6 L559.1,2580 L564.3,2613.8 L564.3,2693.6 L572.1,2737.4 L572.1,2817.2 L579.9,2845.4 L580.5,2895.4 L587.4,2934.9 L587.4,2994.2 L597.2,3040 L610.8,3104.5 L612.8,3157.3" fill="none" stroke="#0000ff" stroke-width="13" stroke-linejoin="round" />
<path d="M1338,3132 L1367.4,3130.9 L1416.3,3116.2 L1433.9,3096.7 L1453.4,3063.4 L1465.2,3032.1 L1465.2,2985.2 L1471,2970 L1479,2955 L1492.8,2886.9 L1496.7,2824.3 L1508.5,2755 L1520,2720.8 L1526.5,2681.6 L1523.9,2655.6 L1523.9,2612.5 L1533,2570.8 L1538.2,2543.4 L1557.1,2525.2 L1564.3,2535.6 L1572.1,2564.3 L1583.9,2603.4 L1583.9,2690.8 L1594.3,2707.7 L1606.5,2755 L1623.8,2828.2 L1631.7,2863.4 L1631.7,2902.5 L1647.3,2937.7 L1661,2960 L1680,2978 L1700,2986.5 L1714,2990" fill="none" stroke="#0000ff" stroke-width="7.5" stroke-linejoin="round" />
<rect x="134.5" y="1831.5" width="2091" height="1548" fill="none" stroke="#000" stroke-width="9"/>
<line x1="134.5" y1="3380" x2="134.5" y2="3410.5" stroke="#000" stroke-width="9" stroke-linecap="round"/>
<text transform="translate(134.5,3488) scale(0.961,1)" class="tnr" font-size="70" text-anchor="middle">925</text>
<line x1="265.2" y1="3380" x2="265.2" y2="3394.5" stroke="#000" stroke-width="9" stroke-linecap="round"/>
<line x1="395.8" y1="3380" x2="395.8" y2="3410.5" stroke="#000" stroke-width="9" stroke-linecap="round"/>
<text transform="translate(395.8,3488) scale(0.961,1)" class="tnr" font-size="70" text-anchor="middle">930</text>
<line x1="526.5" y1="3380" x2="526.5" y2="3394.5" stroke="#000" stroke-width="9" stroke-linecap="round"/>
<line x1="657.1" y1="3380" x2="657.1" y2="3410.5" stroke="#000" stroke-width="9" stroke-linecap="round"/>
<text transform="translate(657.1,3488) scale(0.961,1)" class="tnr" font-size="70" text-anchor="middle">935</text>
<line x1="787.8" y1="3380" x2="787.8" y2="3394.5" stroke="#000" stroke-width="9" stroke-linecap="round"/>
<line x1="918.4" y1="3380" x2="918.4" y2="3410.5" stroke="#000" stroke-width="9" stroke-linecap="round"/>
<text transform="translate(918.4,3488) scale(0.961,1)" class="tnr" font-size="70" text-anchor="middle">940</text>
<line x1="1049.1" y1="3380" x2="1049.1" y2="3394.5" stroke="#000" stroke-width="9" stroke-linecap="round"/>
<line x1="1179.8" y1="3380" x2="1179.8" y2="3410.5" stroke="#000" stroke-width="9" stroke-linecap="round"/>
<text transform="translate(1179.8,3488) scale(0.961,1)" class="tnr" font-size="70" text-anchor="middle">945</text>
<line x1="1310.4" y1="3380" x2="1310.4" y2="3394.5" stroke="#000" stroke-width="9" stroke-linecap="round"/>
<line x1="1441.1" y1="3380" x2="1441.1" y2="3410.5" stroke="#000" stroke-width="9" stroke-linecap="round"/>
<text transform="translate(1441.1,3488) scale(0.961,1)" class="tnr" font-size="70" text-anchor="middle">950</text>
<line x1="1571.7" y1="3380" x2="1571.7" y2="3394.5" stroke="#000" stroke-width="9" stroke-linecap="round"/>
<line x1="1702.4" y1="3380" x2="1702.4" y2="3410.5" stroke="#000" stroke-width="9" stroke-linecap="round"/>
<text transform="translate(1702.4,3488) scale(0.961,1)" class="tnr" font-size="70" text-anchor="middle">955</text>
<line x1="1833.0" y1="3380" x2="1833.0" y2="3394.5" stroke="#000" stroke-width="9" stroke-linecap="round"/>
<line x1="1963.7" y1="3380" x2="1963.7" y2="3410.5" stroke="#000" stroke-width="9" stroke-linecap="round"/>
<text transform="translate(1963.7,3488) scale(0.961,1)" class="tnr" font-size="70" text-anchor="middle">960</text>
<line x1="2094.3" y1="3380" x2="2094.3" y2="3394.5" stroke="#000" stroke-width="9" stroke-linecap="round"/>
<line x1="2225.0" y1="3380" x2="2225.0" y2="3410.5" stroke="#000" stroke-width="9" stroke-linecap="round"/>
<text transform="translate(2225.0,3488) scale(0.961,1)" class="tnr" font-size="70" text-anchor="middle">965</text>
<text x="0" y="0" class="tnr" font-size="87" fill="#000" transform="translate(83.5,2672) rotate(-90)" text-anchor="middle">Intensity (a.u)</text>
<text transform="translate(409.94,1893.8) scale(0.9560,1)" class="tnr" font-size="55.5" fill="#0000a0">Cu 2p<tspan dy="31">3/2</tspan></text>
<text transform="translate(440.05,2003.9) scale(0.9828,1)" class="tnr" font-size="54.5" fill="#000">Cu(I)</text>
<text transform="translate(1467.31,2308) scale(0.9608,1)" class="tnr" font-size="55.5" fill="#0000a0">Cu 2p<tspan dy="31">1/2</tspan></text>
<text transform="translate(1467.04,2413.4) scale(0.9852,1)" class="tnr" font-size="54.5" fill="#000">Cu(I)</text>
<text transform="translate(617.62,2798) scale(0.9910,1)" class="tnr" font-size="54.5" fill="#000">Cu(II)</text>
<text transform="translate(1651.02,2750) scale(0.9923,1)" class="tnr" font-size="54.5" fill="#000">Cu(II)</text>
<text transform="translate(2090.84,1926) scale(0.9898,1)" class="ari" font-size="74.7" fill="#000">(b)</text>
<text transform="translate(852.23,3575.6) scale(0.9787,1)" class="tnr" font-size="76" fill="#000">Binding Energy (eV)</text>
</svg></body></html>
